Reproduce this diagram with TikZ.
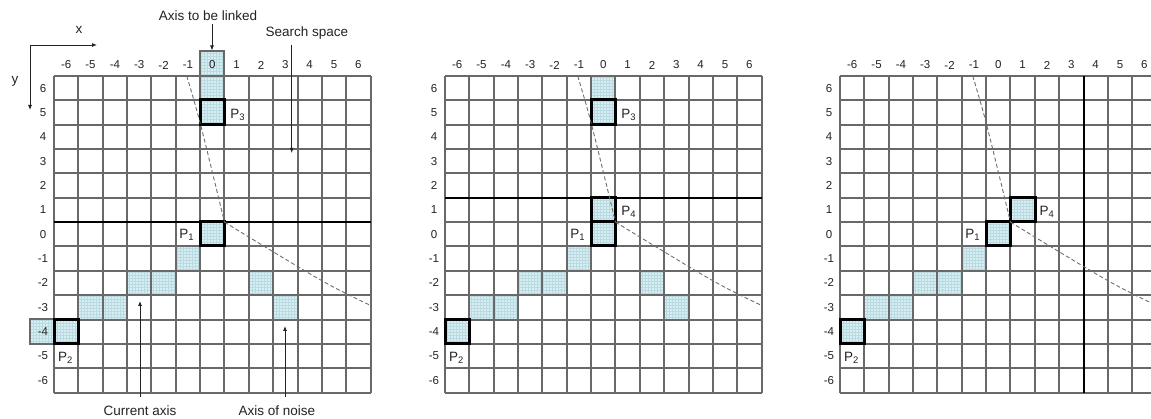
\documentclass[tikz,border=0pt]{standalone}
\usepackage{fontspec}
\setmainfont{Liberation Sans}
\usetikzlibrary{arrows.meta,patterns}
\definecolor{cellfill}{RGB}{216,238,242}
\definecolor{cellpat}{RGB}{186,218,226}
\definecolor{gridcol}{RGB}{105,105,105}
\definecolor{txt}{RGB}{35,35,35}
\definecolor{dashcol}{RGB}{110,110,110}
\def\cw{24.35}
\tikzset{
  shaded/.style={fill=cellfill, postaction={pattern=grid, pattern color=cellpat}},
  gridline/.style={draw=gridcol, line width=2pt},
  heavyline/.style={draw=black, line width=2pt},
  pbox/.style={draw=black, line width=3pt, line join=miter},
  lab/.style={text=txt, font=\fontsize{11.5}{12}\selectfont, inner sep=0pt},
  plab/.style={text=txt, font=\fontsize{13.5}{14}\selectfont, inner sep=0pt},
  note/.style={text=txt, font=\fontsize{13.5}{14}\selectfont, inner sep=0pt},
  arr/.style={draw=txt, line width=0.8pt, -{Latex[length=5pt,width=4pt]}},
  dashcurve/.style={draw=dashcol, line width=0.9pt, dash pattern=on 4pt off 2.5pt}
}
\newcommand{\shcell}[2]{\fill[shaded] ({(#1+6)*\cw},{(6-#2)*\cw}) rectangle +(\cw,\cw);}
\newcommand{\pcell}[2]{\draw[pbox] ({round((#1+6)*\cw)},{round((6-#2)*\cw)}) rectangle ({round((#1+7)*\cw)},{round((7-#2)*\cw)});}
\newcommand{\gridpanel}[1]{%
  \foreach \i in {0,...,13} {
    \pgfmathsetmacro\pp{round(\i*\cw)}
    \pgfmathsetmacro\ee{round(13*\cw)}
    \draw[gridline] (\pp,0) -- (\pp,\ee);
    \draw[gridline] (0,\pp) -- (\ee,\pp);
  }
  \foreach \c [count=\k] in {-6,...,6}
    \node[lab] (#1c\k) at ({(\c+6.5)*\cw},-11) {\c};
  \foreach \r [count=\k] in {6,...,-6}
    \node[lab] (#1r\k) at (-11,{(6.5-\r)*\cw}) {\r};
}
\newcommand{\dashpath}{%
  \draw[dashcurve] plot[smooth, tension=0.6] coordinates {(5.45*\cw,0) (6.02*\cw,2*\cw) (7*\cw,6*\cw)};
  \draw[dashcurve] plot[smooth, tension=0.6] coordinates {(7*\cw,6*\cw) (10.9*\cw,8.35*\cw) (13*\cw,9.42*\cw)};
}
\newcommand{\axiscells}{%
  \shcell{0}{0}\shcell{-1}{-1}\shcell{-3}{-2}\shcell{-2}{-2}
  \shcell{-5}{-3}\shcell{-4}{-3}\shcell{-6}{-4}
}
\begin{document}
\begin{tikzpicture}[x=1pt,y=-1pt]
\useasboundingbox (0,0) rectangle (1151,419);
\clip (0,0) rectangle (1151,419);
\fill[white] (0,0) rectangle (1151,419);

% ---------------- left panel ----------------
\begin{scope}[shift={(54,76)}]
  \fill[shaded] (146,-25) rectangle (170,0);
  \draw[gridline] (146,0) -- (146,-25) -- (170,-25) -- (170,0);
  \fill[shaded] (-24,243) rectangle (0,268);
  \draw[gridline] (0,243) -- (-24,243) -- (-24,268) -- (0,268);
  \shcell{0}{6}\shcell{0}{5}\axiscells
  \shcell{2}{-2}\shcell{3}{-3}
  \gridpanel{L}
  \draw[heavyline] (0,146) -- (317,146);
  \pcell{0}{5}\pcell{0}{0}\pcell{-6}{-4}
  \dashpath
  \node[plab] (Lp3) at (7.55*\cw,1.6*\cw) {P\textsubscript{3}};
  \node[plab] (Lp1) at (5.45*\cw,6.53*\cw) {P\textsubscript{1}};
  \node[plab] (Lp2) at (0.47*\cw,11.58*\cw) {P\textsubscript{2}};
\end{scope}

% axis arrows
\coordinate (org) at (30,45);
\coordinate (xend) at (97,45);
\coordinate (yend) at (30,110);
\draw[arr] (org) -- (xend);
\draw[arr] (org) -- (yend);
\node[note] (xl) at (79,30) {x};
\node[note] (yl) at (15,81) {y};

% annotations
\node[note] (ax) at (208,16) {Axis to be linked};
\coordinate (axtail) at (212,24.5);
\coordinate (axtip) at (212,50.5);
\draw[arr] (axtail) -- (axtip);
\node[note] (ss) at (307,33) {Search space};
\coordinate (sstop) at (291.7,45);
\coordinate (sstip) at (291.7,153);
\draw[arr] (sstop) -- (sstip);
\node[note] (ca) at (140,411) {Current axis};
\coordinate (catail) at (140,397);
\coordinate (catip) at (140,301);
\draw[arr] (catail) -- (catip);
\node[note] (an) at (277,411) {Axis of noise};
\coordinate (antail) at (285,397);
\coordinate (antip) at (285,326);
\draw[arr] (antail) -- (antip);

% ---------------- middle panel ----------------
\begin{scope}[shift={(445,76)}]
  \shcell{0}{6}\shcell{0}{5}\shcell{0}{1}\axiscells
  \shcell{2}{-2}\shcell{3}{-3}
  \gridpanel{M}
  \draw[heavyline] (0,122) -- (317,122);
  \pcell{0}{5}\pcell{0}{1}\pcell{0}{0}\pcell{-6}{-4}
  \dashpath
  \node[plab] (Mp3) at (7.55*\cw,1.6*\cw) {P\textsubscript{3}};
  \node[plab] (Mp4) at (7.55*\cw,5.57*\cw) {P\textsubscript{4}};
  \node[plab] (Mp1) at (5.45*\cw,6.53*\cw) {P\textsubscript{1}};
  \node[plab] (Mp2) at (0.47*\cw,11.58*\cw) {P\textsubscript{2}};
\end{scope}

% ---------------- right panel ----------------
\begin{scope}[shift={(840,76)}]
  \shcell{1}{1}\axiscells
  \gridpanel{R}
  \draw[heavyline] (244,0) -- (244,317);
  \pcell{1}{1}\pcell{0}{0}\pcell{-6}{-4}
  \dashpath
  \node[plab] (Rp4) at (8.5*\cw,5.57*\cw) {P\textsubscript{4}};
  \node[plab] (Rp1) at (5.45*\cw,6.53*\cw) {P\textsubscript{1}};
  \node[plab] (Rp2) at (0.47*\cw,11.58*\cw) {P\textsubscript{2}};
\end{scope}
\end{tikzpicture}
\end{document}
